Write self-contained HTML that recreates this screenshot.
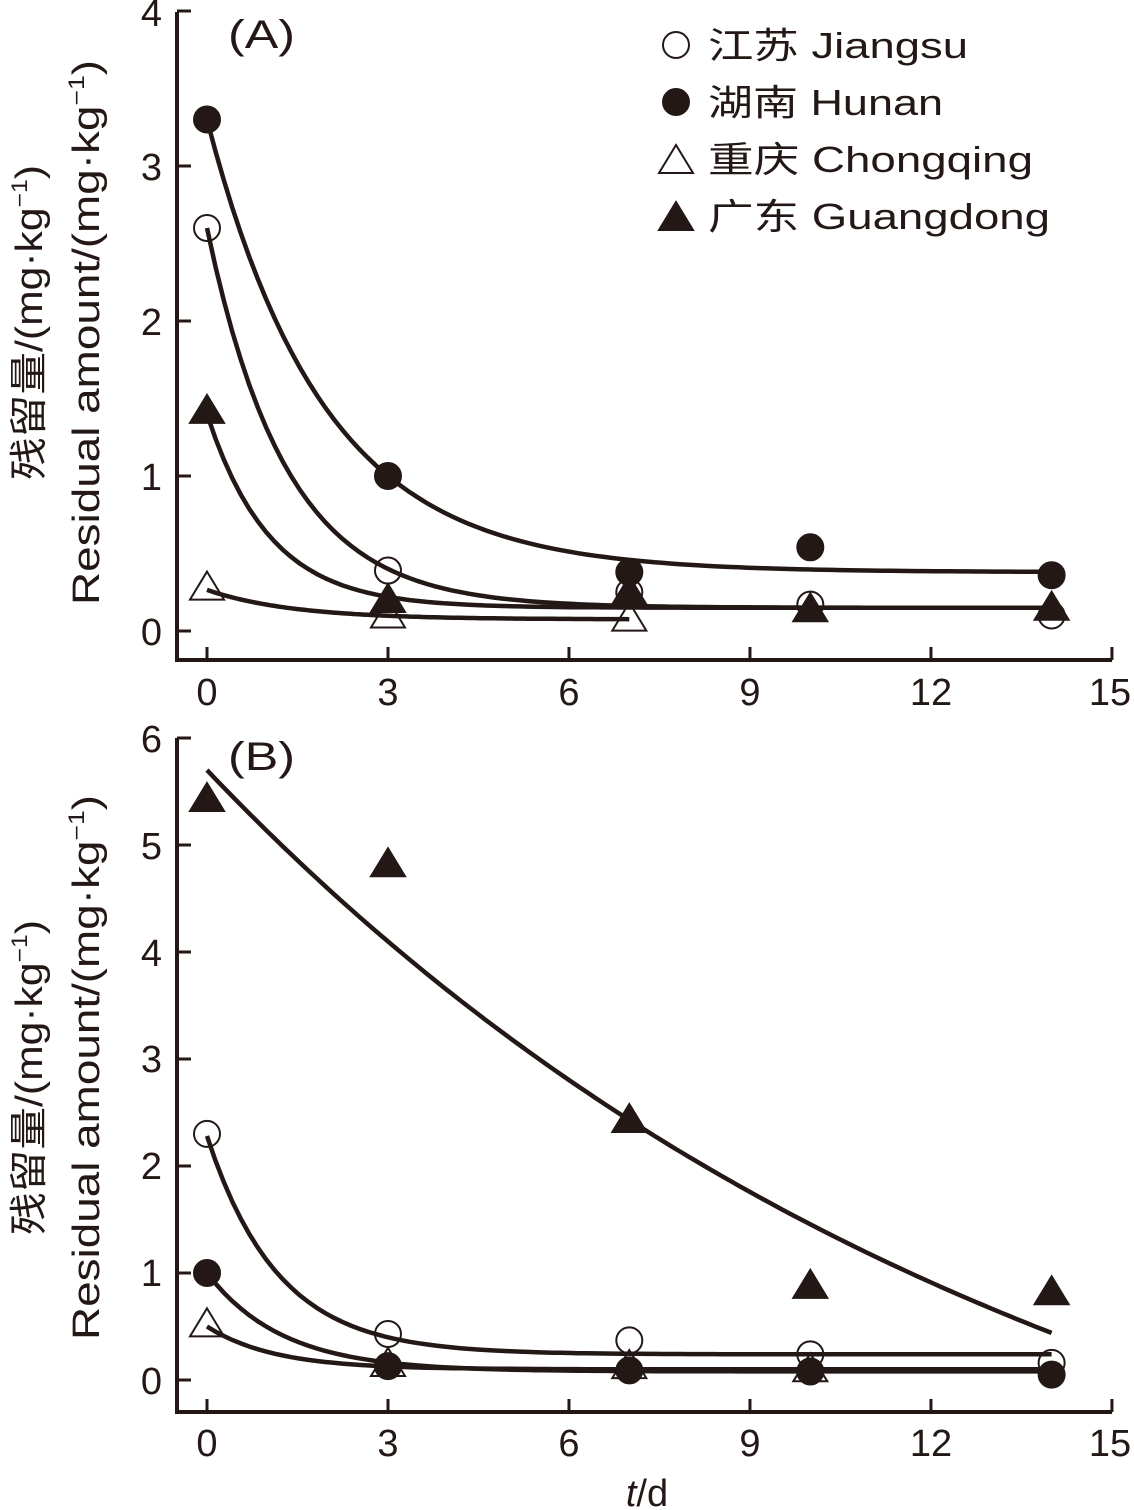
<!DOCTYPE html>
<html><head><meta charset="utf-8"><style>
html,body{margin:0;padding:0;background:#fff}
svg{display:block}
text{font-family:"Liberation Sans","Noto Sans CJK SC",sans-serif;fill:#231815}
</style></head><body>
<svg id="s" width="1134" height="1510" viewBox="0 0 1134 1510" xmlns="http://www.w3.org/2000/svg">
<g stroke="#231815" stroke-width="4" fill="none">
<path d="M177 12 V660 H1112"/>
<path d="M177 738 V1412 H1112"/>
</g>
<g font-size="38" text-anchor="end">
<text x="162" y="645">0</text><text x="162" y="490">1</text><text x="162" y="335">2</text><text x="162" y="180">3</text><text x="162" y="26">4</text>
<text x="162" y="1394">0</text><text x="162" y="1286">1</text><text x="162" y="1179">2</text><text x="162" y="1072">3</text><text x="162" y="966">4</text><text x="162" y="859">5</text><text x="162" y="752">6</text>
</g>
<g font-size="38" text-anchor="middle">
<text x="207" y="705">0</text><text x="388" y="705">3</text><text x="569" y="705">6</text><text x="750" y="705">9</text><text x="931" y="705">12</text><text x="1110" y="705">15</text>
<text x="207" y="1456">0</text><text x="388" y="1456">3</text><text x="569" y="1456">6</text><text x="750" y="1456">9</text><text x="931" y="1456">12</text><text x="1110" y="1456">15</text>
<text x="647" y="1506"><tspan font-style="italic">t</tspan>/d</text>
</g>
<text x="228" y="48" font-size="40" textLength="67" lengthAdjust="spacingAndGlyphs">(A)</text>
<text x="228" y="770" font-size="40" textLength="67" lengthAdjust="spacingAndGlyphs">(B)</text>
<g font-size="38">
<text transform="translate(42,480) rotate(-90)" textLength="315" lengthAdjust="spacingAndGlyphs">残留量/(mg·kg<tspan dy="-15" font-size="22">−1</tspan><tspan dy="15">)</tspan></text>
<text transform="translate(99,605) rotate(-90)" textLength="545" lengthAdjust="spacingAndGlyphs">Residual amount/(mg·kg<tspan dy="-15" font-size="22">−1</tspan><tspan dy="15">)</tspan></text>
<text transform="translate(42,1235) rotate(-90)" textLength="315" lengthAdjust="spacingAndGlyphs">残留量/(mg·kg<tspan dy="-15" font-size="22">−1</tspan><tspan dy="15">)</tspan></text>
<text transform="translate(99,1340) rotate(-90)" textLength="545" lengthAdjust="spacingAndGlyphs">Residual amount/(mg·kg<tspan dy="-15" font-size="22">−1</tspan><tspan dy="15">)</tspan></text>
</g>
<g font-size="36">
<text x="708" y="58" textLength="260" lengthAdjust="spacingAndGlyphs">江苏 Jiangsu</text>
<text x="708" y="115" textLength="235" lengthAdjust="spacingAndGlyphs">湖南 Hunan</text>
<text x="708" y="172" textLength="325" lengthAdjust="spacingAndGlyphs">重庆 Chongqing</text>
<text x="708" y="229" textLength="342" lengthAdjust="spacingAndGlyphs">广东 Guangdong</text>
</g>
<g id="g"></g>
</svg>
<script>
var g=document.getElementById('g'),NS='http://www.w3.org/2000/svg';
function el(n,a){var e=document.createElementNS(NS,n);for(var k in a)e.setAttribute(k,a[k]);g.appendChild(e);}
var X=function(t){return 207+60.33*t};
var YA=function(v){return 631-155*v}, YB=function(v){return 1380-107*v};
function curve(Y,c,a,k,t1){var d='';for(var i=0;i<=100;i++){var t=t1*i/100;d+=(i?'L':'M')+X(t).toFixed(1)+' '+Y(c+a*Math.exp(-k*t)).toFixed(1);}el('path',{d:d,fill:'none',stroke:'#231815','stroke-width':4.5});}
function circ(x,y,f){el('circle',{cx:x,cy:y,r:13,fill:f?'#231815':'#fff','fill-opacity':f?1:0,stroke:'#231815','stroke-width':2});}
function tri(x,y,f){el('path',{d:'M'+x+' '+(y-16)+'L'+(x+17)+' '+(y+12)+'L'+(x-17)+' '+(y+12)+'Z',fill:f?'#231815':'#fff','fill-opacity':f?1:0,stroke:'#231815','stroke-width':2});}
[0,3,6,9,12,15].forEach(function(t){el('line',{x1:X(t),x2:X(t),y1:660,y2:647,stroke:'#231815','stroke-width':3});el('line',{x1:X(t),x2:X(t),y1:1412,y2:1399,stroke:'#231815','stroke-width':3});});
[0,1,2,3,4].forEach(function(v){el('line',{x1:177,x2:191,y1:YA(v),y2:YA(v),stroke:'#231815','stroke-width':3});});
[0,1,2,3,4,5,6].forEach(function(v){el('line',{x1:177,x2:191,y1:YB(v),y2:YB(v),stroke:'#231815','stroke-width':3});});
curve(YA,0.38,2.92,0.516,14);
curve(YA,0.15,2.45,0.76,14);
curve(YA,0.15,1.25,0.96,14);
curve(YA,0.075,0.19,0.7,7);
curve(YB,-2.65,8.35,0.071,14);
curve(YB,0.24,2.04,0.85,14);
curve(YB,0.08,0.92,0.8,14);
curve(YB,0.1,0.4,0.9,14);
[[0,2.6],[3,0.39],[7,0.25],[10,0.17],[14,0.1]].forEach(function(p){circ(X(p[0]),YA(p[1]),0)});
[[0,3.3],[3,1.0],[7,0.38],[10,0.54],[14,0.36]].forEach(function(p){circ(X(p[0]),YA(p[1]),1)});
[[0,0.28],[3,0.1],[7,0.08]].forEach(function(p){tri(X(p[0]),YA(p[1]),0)});
[[0,1.42],[3,0.2],[7,0.25],[10,0.14],[14,0.15]].forEach(function(p){tri(X(p[0]),YA(p[1]),1)});
[[0,2.3],[3,0.43],[7,0.37],[10,0.24],[14,0.16]].forEach(function(p){circ(X(p[0]),YB(p[1]),0)});
[[0,1.0],[3,0.13],[7,0.09],[10,0.08],[14,0.05]].forEach(function(p){circ(X(p[0]),YB(p[1]),1)});
[[0,0.52],[3,0.15],[7,0.13],[10,0.1]].forEach(function(p){tri(X(p[0]),YB(p[1]),0)});
[[0,5.43],[3,4.82],[7,2.43],[10,0.88],[14,0.82]].forEach(function(p){tri(X(p[0]),YB(p[1]),1)});
circ(676,45,0);circ(676,102,1);tri(676,161,0);tri(676,218,1);
</script>
</body></html>
